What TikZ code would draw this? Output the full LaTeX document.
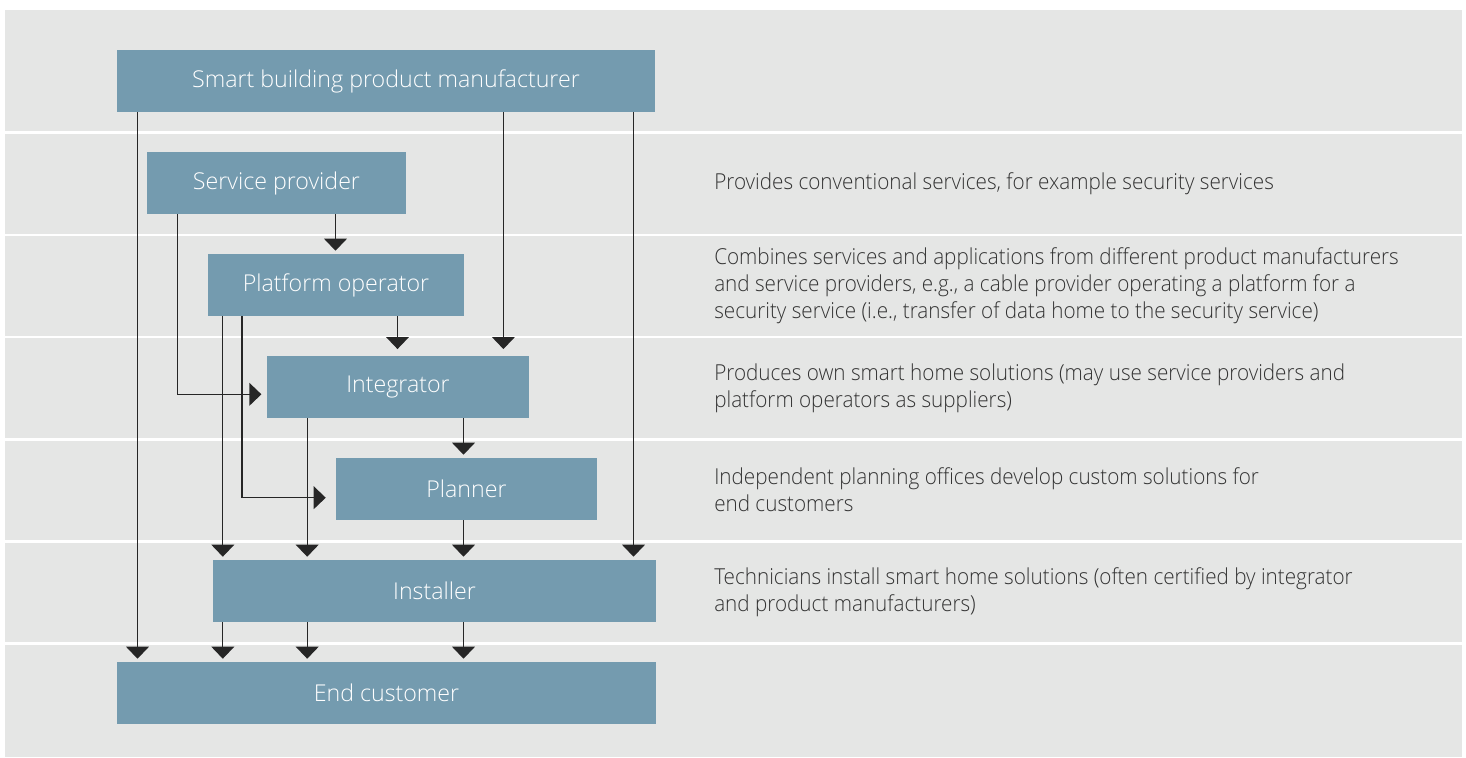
\documentclass[tikz,border=0pt]{standalone}
\usepackage{fontspec}
\setmainfont{Open Sans Light}
\newfontfamily\descfont[FakeStretch=0.94]{Open Sans Light}
\usetikzlibrary{arrows.meta}
\definecolor{panel}{HTML}{E5E6E5}
\definecolor{boxfill}{HTML}{749BAF}
\definecolor{ink}{HTML}{333333}
\definecolor{wire}{HTML}{262626}
\begin{document}
\begin{tikzpicture}[x=0.75pt,y=-0.75pt,
  role/.style={fill=boxfill, text=white, inner sep=0pt, minimum height=46.5pt,
    font=\fontsize{17.4}{20}\selectfont},
  wd/.style={minimum width=#1*0.75pt},
  note/.style={anchor=west, inner sep=0pt, align=left, text=ink,
    font=\descfont\fontsize{16.5}{20.25}\selectfont},
  flow/.style={draw=wire, line width=1pt,
    -{Triangle[width=17pt,length=9pt]}, shorten >=2.25pt},
  sepline/.style={draw=white, line width=1.9pt}]
\useasboundingbox (0,0) rectangle (1466,757);
% panel and row separators
\fill[panel] (5,10) rectangle (1462,757);
\foreach \y in {132.5,235,337,439.3,541.5,643.3}
  \draw[sepline] (5,\y) -- (1462,\y);

% roles
\node[role, wd=538] (mfr)   at (386,81)    {Smart building product manufacturer};
\node[role, wd=259] (sp)    at (276.5,183) {Service provider};
\node[role, wd=256] (po)    at (336,285)   {Platform operator};
\node[role, wd=262] (integ) at (398,387)   {Integrator};
\node[role, wd=261] (plan)  at (466.5,489) {Planner};
\node[role, wd=443] (inst)  at (434.5,591) {Installer};
\node[role, wd=539] (cust)  at (386.5,693) {End customer};

% descriptions
\node[note] (n1) at (714,183.7) {Provides conventional services, for example security services};
\node[note] (n2) at (714,286) {Combines services and applications from different product manufacturers\\
  and service providers, e.g., a cable provider operating a platform for a\\
  security service (i.e., transfer of data home to the security service)};
\node[note] (n3) at (714,388) {Produces own smart home solutions (may use service providers and\\
  platform operators as suppliers)};
\node[note] (n4) at (714,490) {Independent planning offices develop custom solutions for\\
  end customers};
\node[note] (n5) at (714,592) {Technicians install smart home solutions (often certified by integrator\\
  and product manufacturers)};

% connector tracks
\coordinate (xA) at (137.5,0);
\coordinate (xB) at (503.4,0);
\coordinate (xC) at (633.5,0);
\coordinate (xD) at (177.7,0);
\coordinate (xE) at (335.5,0);
\coordinate (xF) at (397.5,0);
\coordinate (xG) at (242,0);
\coordinate (xH) at (222.8,0);
\coordinate (xI) at (307.2,0);
\coordinate (xJ) at (463.5,0);
\coordinate (yK) at (0,394.3);
\coordinate (yL) at (0,497.7);

% connectors
\draw[flow] (mfr.south -| xA) -- (cust.north -| xA);
\draw[flow, shorten >=5pt] (mfr.south -| xB) -- (integ.north -| xB);
\draw[flow] (mfr.south -| xC) -- (inst.north -| xC);
\draw[flow] (sp.south -| xE) -- (po.north -| xE);
\draw[flow, shorten >=4pt] (sp.south -| xD) |- (integ.west |- yK);
\draw[flow, shorten >=5pt] (po.south -| xF) -- (integ.north -| xF);
\draw[flow, shorten >=7.5pt] (po.south -| xG) |- (plan.west |- yL);
\draw[flow] (po.south -| xH) -- (inst.north -| xH);
\draw[flow] (integ.south -| xJ) -- (plan.north -| xJ);
\draw[flow] (integ.south -| xI) -- (inst.north -| xI);
\draw[flow] (plan.south -| xJ) -- (inst.north -| xJ);
\foreach \c in {xH,xI,xJ}
  \draw[flow] (inst.south -| \c) -- (cust.north -| \c);
\end{tikzpicture}
\end{document}
